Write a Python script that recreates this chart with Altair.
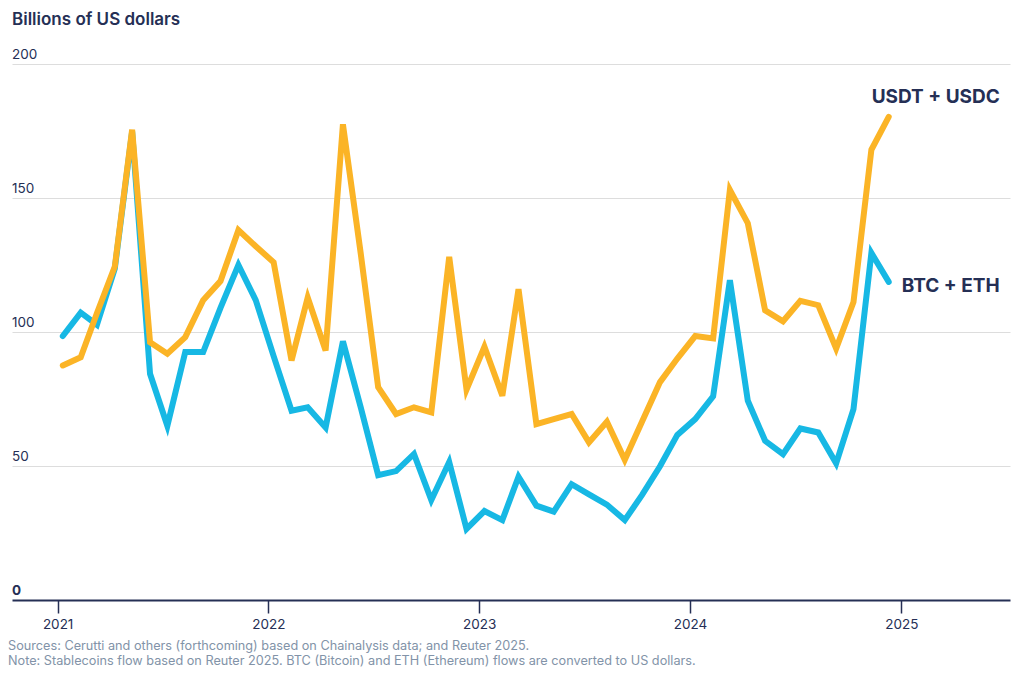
import altair as alt
import pandas as pd

# Monthly flows, Jan 2021 - Dec 2024 (billions of US dollars)
months = pd.date_range("2021-01-01", periods=48, freq="MS") + pd.Timedelta(days=9)

usdt_usdc = [87.5, 90.6, 107.0, 124.4, 175.5, 96.2, 91.9, 98.1, 111.9, 119.0, 138.0, 132.0,
             126.0, 89.4, 112.9, 93.1, 177.5, 129.0, 79.4, 69.4, 71.9, 70.0, 128.0, 78.5,
             94.5, 76.2, 116.0, 65.6, 67.5, 69.4, 58.8, 66.5, 52.3, 66.6, 81.3, 90.1,
             98.5, 97.6, 153.0, 140.6, 108.1, 104.0, 111.6, 110.0, 93.8, 111.2, 168.0, 180.3]

btc_eth = [98.5, 107.2, 102.7, 123.7, 174.8, 84.4, 65.0, 92.5, 92.5, 109.0, 125.0, 111.9,
           91.0, 70.6, 71.9, 64.4, 96.5, 71.7, 46.6, 48.1, 54.5, 37.3, 51.5, 26.5,
           33.2, 29.8, 46.0, 35.2, 33.0, 43.2, 39.4, 35.6, 29.8, 39.2, 49.9, 61.6,
           67.5, 76.0, 119.3, 74.4, 59.4, 54.4, 64.0, 62.5, 51.0, 71.2, 129.5, 118.7]

series_names = ["BTC + ETH", "USDT + USDC"]
series_colors = ["#17B8E4", "#FBB426"]
y_ticks = [0, 50, 100, 150, 200]
year_ticks = [2021, 2022, 2023, 2024, 2025]

title_text = "Billions of US dollars"
source_text = "Sources: Cerutti and others (forthcoming) based on Chainalysis data; and Reuter 2025."
note_text = "Note: Stablecoins flow based on Reuter 2025. BTC (Bitcoin) and ETH (Ethereum) flows are converted to US dollars."

NAVY = "#252F55"
FONT = "Inter"

df = pd.concat([
    pd.DataFrame({"date": months, "value": btc_eth, "series": series_names[0]}),
    pd.DataFrame({"date": months, "value": usdt_usdc, "series": series_names[1]}),
])

x_scale = alt.Scale(domain=[alt.DateTime(year=2020, month=10, date=14),
                            alt.DateTime(year=2025, month=7, date=8)])
y_scale = alt.Scale(domain=[0, 200], nice=False)

x_axis = alt.Axis(values=[alt.DateTime(year=y, month=1, date=1) for y in year_ticks],
                  format="%Y", title=None, grid=False,
                  domainColor=NAVY, domainWidth=2, tickColor=NAVY, tickWidth=1.5,
                  tickSize=13, labelColor=NAVY, labelFontSize=13.5, labelFont=FONT,
                  labelPadding=4)
y_axis = alt.Axis(values=y_ticks[1:], grid=True, gridColor="#DDDDDD", gridWidth=1,
                  domain=False, ticks=False, labels=False, title=None)

base = alt.Chart(df)

lines = base.mark_line(strokeWidth=6, strokeCap="round").encode(
    x=alt.X("date:T", scale=x_scale, axis=x_axis),
    y=alt.Y("value:Q", scale=y_scale, axis=y_axis),
    color=alt.Color("series:N", scale=alt.Scale(domain=series_names, range=series_colors),
                    legend=None),
    order=alt.Order("series:N"),
)

# y tick labels above gridlines
ylab_df = pd.DataFrame({"v": y_ticks[1:], "lab": [str(t) for t in y_ticks[1:]]})
ylabels = alt.Chart(ylab_df).mark_text(align="left", baseline="middle", dy=-9,
                                        fontSize=13.5, font=FONT, color=NAVY).encode(
    x=alt.value(0),
    y=alt.Y("v:Q", scale=y_scale),
    text="lab:N",
)
zero_df = pd.DataFrame({"v": y_ticks[:1], "lab": [str(y_ticks[0])]})
zlabel = alt.Chart(zero_df).mark_text(align="left", baseline="middle", dy=-9,
                                       fontSize=13.5, fontWeight="bold", font=FONT, color=NAVY).encode(
    x=alt.value(0),
    y=alt.Y("v:Q", scale=y_scale),
    text="lab:N",
)

# series labels at line ends
last_df = pd.DataFrame({"date": [months[-1]], "value": [usdt_usdc[-1]], "lab": [series_names[1]]})
last_df2 = pd.DataFrame({"date": [months[-1]], "value": [btc_eth[-1]], "lab": [series_names[0]]})
lab1 = alt.Chart(last_df).mark_text(align="center", baseline="middle", dx=47, dy=-20,
                                     fontSize=19, fontWeight="bold", font=FONT, color=NAVY).encode(
    x=alt.X("date:T", scale=x_scale), y=alt.Y("value:Q", scale=y_scale), text="lab:N")
lab2 = alt.Chart(last_df2).mark_text(align="left", baseline="middle", dx=13, dy=4,
                                      fontSize=19, fontWeight="bold", font=FONT, color=NAVY).encode(
    x=alt.X("date:T", scale=x_scale), y=alt.Y("value:Q", scale=y_scale), text="lab:N")

title = alt.Chart(pd.DataFrame({"t": [title_text]})).mark_text(
    align="left", baseline="middle", fontSize=17, fontWeight=600, font=FONT, color=NAVY).encode(
    x=alt.value(0), y=alt.value(-44), text="t:N")

foot1 = alt.Chart(pd.DataFrame({"t": [source_text]})).mark_text(
    align="left", baseline="middle", fontSize=12.7, font=FONT, color="#8293A8").encode(
    x=alt.value(-4), y=alt.value(582), text="t:N")
foot2 = alt.Chart(pd.DataFrame({"t": [note_text]})).mark_text(
    align="left", baseline="middle", fontSize=12.7, font=FONT, color="#8293A8").encode(
    x=alt.value(-4), y=alt.value(597), text="t:N")

chart = alt.layer(lines, ylabels, zlabel, lab1, lab2, title, foot1, foot2).properties(
    width=998, height=536,
    autosize=alt.AutoSizeParams(type="none"),
    padding={"left": 4, "top": 56, "right": 6, "bottom": 69},
).configure_view(stroke=None)

chart.save("out.html", embed_options={"renderer": "svg", "actions": False})
